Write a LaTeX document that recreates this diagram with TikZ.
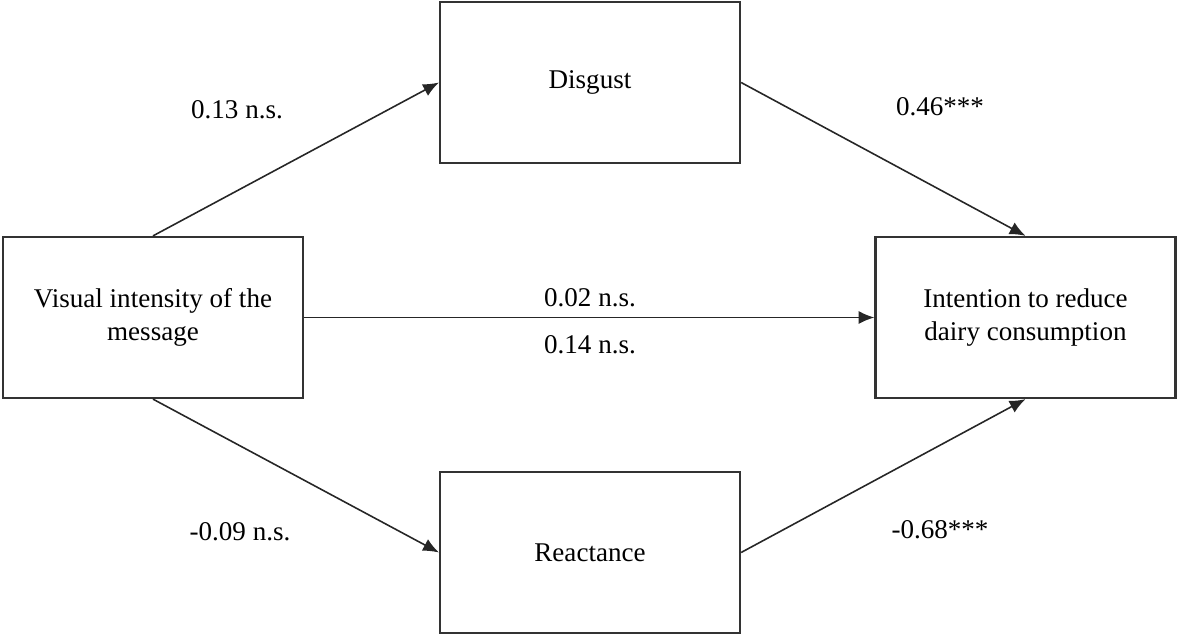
\documentclass[tikz,border=0pt]{standalone}
\usepackage{fontspec}
\setmainfont{Liberation Serif}
\usetikzlibrary{arrows.meta}

\begin{document}
\begin{tikzpicture}[x=0.02cm,y=-0.02cm,
    var/.style={draw=black!80,line width=1.3pt,minimum width=6cm,
        minimum height=3.22cm,align=center,inner sep=2pt,
        font=\fontsize{15.4}{18.5}\selectfont},
    coef/.style={font=\fontsize{15.4}{18.5}\selectfont},
    path/.style={-{Latex[length=9pt,width=7.5pt]},line width=0.9pt,black!85}]

    \useasboundingbox (0,0) rectangle (1177,635);

    \node[var] (vis) at (153,317.5) {Visual intensity of the\\message};
    \node[var] (dis) at (590,82.5) {Disgust};
    \node[var] (rea) at (590,552.5) {Reactance};
    \node[var] (int) at (1025.5,317.5) {Intention to reduce\\dairy consumption};

    \draw[path] (vis.north) to (dis.west);
    \draw[path] (dis.east) to (int.north);
    \draw[path] (vis.east) to (int.west);
    \draw[path] (vis.south) to (rea.west);
    \draw[path] (rea.east) to (int.south);

    \node[coef] (c1) at (237,110) {0.13 n.s.};
    \node[coef] (c2) at (940,107) {0.46***};
    \node[coef] (c3) at (590,298) {0.02 n.s.};
    \node[coef] (c4) at (590,345) {0.14 n.s.};
    \node[coef] (c5) at (240,532) {-0.09 n.s.};
    \node[coef] (c6) at (940,530) {-0.68***};

\end{tikzpicture}
\end{document}
